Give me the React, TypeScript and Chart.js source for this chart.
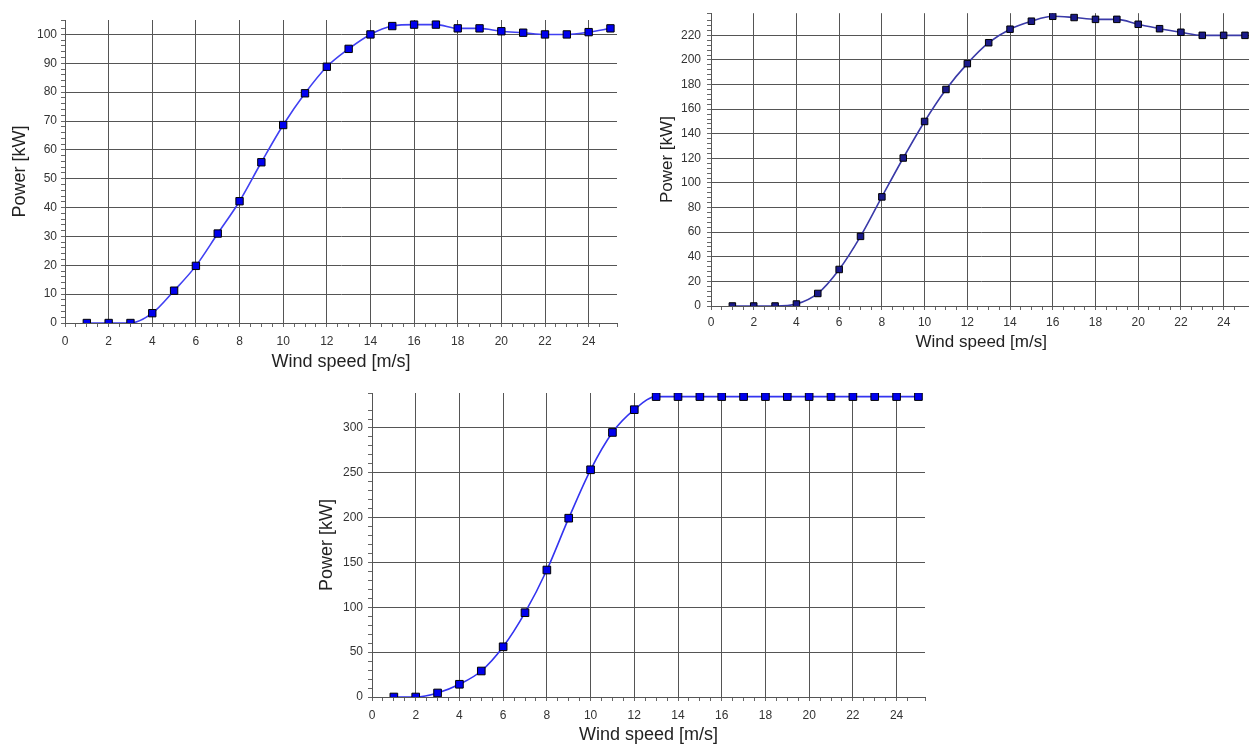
import React, { useEffect, useRef } from "react";
import { Chart, registerables } from "chart.js";

Chart.register(...registerables);

// Wind speed categories [m/s]
const windSpeed = [1, 2, 3, 4, 5, 6, 7, 8, 9, 10, 11, 12, 13, 14, 15, 16, 17, 18, 19, 20, 21, 22, 23, 24, 25];

// Turbine A (~100 kW)
const powerA = [0, 0, 0, 3.4, 11.2, 19.8, 31, 42.2, 55.7, 68.6, 79.6, 88.8, 95, 100, 102.9, 103.4, 103.4, 102.1, 102.1, 101.1, 100.6, 100, 100, 100.8, 102.1];
// Turbine B (~220 kW)
const powerB = [0, 0, 0, 1.6, 10.2, 29.7, 56.6, 88.7, 120.3, 150, 176, 197, 214, 225, 231.5, 235.5, 234.5, 233, 233, 229, 225.4, 222.5, 220, 220, 220];
// Turbine C (~335 kW)
const powerC = [0, 0, 4.5, 14.2, 29, 56, 94, 141.6, 199.4, 253.4, 295, 320.4, 335, 335, 335, 335, 335, 335, 335, 335, 335, 335, 335, 335, 335];

const xTitle = "Wind speed [m/s]";
const yTitle = "Power [kW]";

type Props = {
  left: number;
  top: number;
  width: number;
  height: number;
  values: number[];
  yMax: number;
  yStep: number;
  yLabelStep: number;
  axisW: number;
  axisH: number;
  padTop: number;
  padRight: number;
  lineColor: string;
  pointColor: string;
  pointRadius: number;
  titleSize: number;
  yTitlePad: number;
  xTitlePad: number;
  yTickPad: number;
  xTickPad: number;
};

const FONT = "'Liberation Sans', Arial, Helvetica, sans-serif";

function isMult(v: number, m: number) {
  const r = v / m;
  return Math.abs(r - Math.round(r)) < 1e-6;
}

function PowerChart(p: Props) {
  const ref = useRef<HTMLCanvasElement | null>(null);
  useEffect(() => {
    if (!ref.current) return;
    const chart = new Chart(ref.current, {
      type: "line",
      data: {
        datasets: [
          {
            data: windSpeed.map((x, i) => ({ x, y: p.values[i] })),
            borderColor: p.lineColor,
            borderWidth: 1.6,
            backgroundColor: p.pointColor,
            pointStyle: "rect",
            pointRadius: p.pointRadius,
            pointBackgroundColor: p.pointColor,
            pointBorderColor: "#000000",
            pointBorderWidth: 1,
            cubicInterpolationMode: "monotone",
            fill: false,
          },
        ],
      },
      options: {
        animation: false,
        responsive: false,
        maintainAspectRatio: false,
        layout: { padding: { top: p.padTop, right: p.padRight, left: 0, bottom: 0 } },
        plugins: { legend: { display: false }, tooltip: { enabled: false } },
        scales: {
          x: {
            type: "linear",
            min: 0,
            max: 25.3,
            afterFit: (s: any) => {
              s.height = p.axisH;
            },
            ticks: {
              stepSize: 0.5,
              autoSkip: false,
              maxRotation: 0,
              minRotation: 0,
              padding: p.xTickPad,
              color: "#333333",
              font: { family: FONT, size: 12 },
              callback: (v: any) => (isMult(Number(v), 2) ? String(Math.round(Number(v))) : ""),
            },
            grid: {
              color: (ctx: any) => (ctx.tick && isMult(ctx.tick.value, 2) ? "#555555" : "rgba(0,0,0,0)"),
              lineWidth: 1,
              drawTicks: true,
              tickLength: 4,
              tickColor: "#666666",
            },
            border: { display: true, color: "#555555", width: 1 },
            title: {
              display: true,
              text: xTitle,
              color: "#222222",
              font: { family: FONT, size: p.titleSize },
              padding: { top: 0, bottom: p.xTitlePad },
            },
          },
          y: {
            type: "linear",
            min: 0,
            max: p.yMax,
            afterFit: (s: any) => {
              s.width = p.axisW;
            },
            ticks: {
              stepSize: p.yStep,
              autoSkip: false,
              padding: p.yTickPad,
              color: "#333333",
              font: { family: FONT, size: 12 },
              callback: (v: any) => (isMult(Number(v), p.yLabelStep) ? String(Math.round(Number(v))) : ""),
            },
            grid: {
              color: (ctx: any) =>
                ctx.tick && isMult(ctx.tick.value, p.yLabelStep) ? "#555555" : "rgba(0,0,0,0)",
              lineWidth: 1,
              drawTicks: true,
              tickLength: 4,
              tickColor: "#666666",
            },
            border: { display: true, color: "#555555", width: 1 },
            title: {
              display: true,
              text: yTitle,
              color: "#222222",
              font: { family: FONT, size: p.titleSize },
              padding: { top: p.yTitlePad, bottom: 0 },
            },
          },
        },
      },
    } as any);
    return () => chart.destroy();
  }, []);
  return (
    <div style={{ position: "absolute", left: p.left, top: p.top, width: p.width, height: p.height }}>
      <canvas ref={ref} width={p.width} height={p.height} style={{ width: p.width, height: p.height }} />
    </div>
  );
}

export default function App() {
  useEffect(() => {
    document.body.style.margin = "0";
    document.body.style.background = "#ffffff";
  }, []);
  return (
    <div style={{ position: "relative", width: 1249, height: 746, background: "#ffffff", overflow: "hidden" }}>
      <PowerChart
        left={0}
        top={0}
        width={625}
        height={378}
        values={powerA}
        yMax={105}
        yStep={2}
        yLabelStep={10}
        axisW={65}
        axisH={55}
        padTop={20}
        padRight={8}
        lineColor="#4040f2"
        pointColor="#0000ee"
        pointRadius={5.2}
        titleSize={18}
        yTitlePad={9}
        xTitlePad={5}
        yTickPad={4}
        xTickPad={7}
      />
      <PowerChart
        left={640}
        top={0}
        width={617}
        height={360}
        values={powerB}
        yMax={238}
        yStep={4}
        yLabelStep={20}
        axisW={71}
        axisH={54}
        padTop={10}
        padRight={0}
        lineColor="#3a3aa8"
        pointColor="#1a1a8a"
        pointRadius={4.6}
        titleSize={17}
        yTitlePad={17}
        xTitlePad={7}
        yTickPad={6}
        xTickPad={5}
      />
      <PowerChart
        left={300}
        top={380}
        width={640}
        height={366}
        values={powerC}
        yMax={339}
        yStep={10}
        yLabelStep={50}
        axisW={72}
        axisH={49}
        padTop={13}
        padRight={15}
        lineColor="#3333f0"
        pointColor="#0000ee"
        pointRadius={5.4}
        titleSize={18}
        yTitlePad={16}
        xTitlePad={0}
        yTickPad={5}
        xTickPad={7}
      />
    </div>
  );
}
